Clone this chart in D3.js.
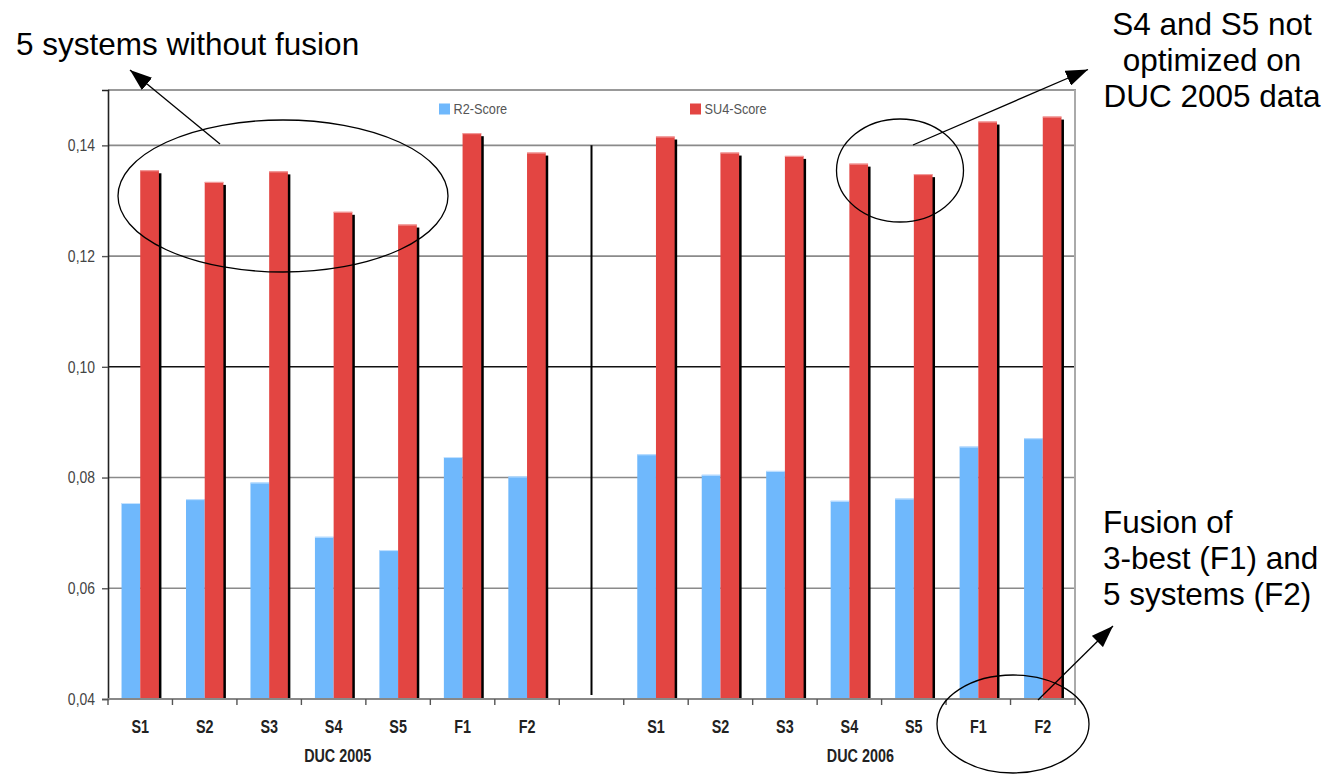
<!DOCTYPE html>
<html>
<head>
<meta charset="utf-8">
<script src="https://cdn.jsdelivr.net/npm/d3@7"></script>
<style>
  body { margin: 0; background: #fff; }
  svg { display: block; }
</style>
</head>
<body>
<svg id="chart" width="1329" height="774"></svg>
<script>
// chart values
var systems = ["S1", "S2", "S3", "S4", "S5", "F1", "F2"];
var years = ["DUC 2005", "DUC 2006"];
var r2_2005 = [0.0754, 0.0761, 0.0791, 0.0693, 0.0669, 0.0837, 0.0802];
var su4_2005 = [0.1355, 0.1334, 0.1353, 0.1280, 0.1257, 0.1422, 0.1387];
var r2_2006 = [0.0842, 0.0805, 0.0812, 0.0758, 0.0762, 0.0856, 0.0871];
var su4_2006 = [0.1416, 0.1387, 0.1381, 0.1367, 0.1348, 0.1443, 0.1452];
var yTicks = [0.04, 0.06, 0.08, 0.10, 0.12, 0.14];
var seriesNames = ["R2-Score", "SU4-Score"];

var BLUE = "#6fb8fc", RED = "#e34542";
var FONT = "'Liberation Sans', Arial, sans-serif";
var svg = d3.select("#chart");

// one slot per system + an empty slot between the two years
var keys = [];
var rows = [];
years.forEach(function(yr, i) {
    if (i > 0) keys.push("gap");
    var r2 = i == 0 ? r2_2005 : r2_2006;
    var su4 = i == 0 ? su4_2005 : su4_2006;
    systems.forEach(function(s, j) {
        keys.push(yr + "|" + s);
        rows.push({key: yr + "|" + s, sys: s, year: yr, r2: r2[j], su4: su4[j]});
    });
});

var x = d3.scaleBand().domain(keys).range([108, 1075]).padding(0);
var y = d3.scaleLinear().domain([0.04, 0.15]).range([699, 90]);
var bw = x.bandwidth() * 0.29;
var off = (x.bandwidth() - 2 * bw) / 2;

// squeeze text horizontally, the chart labels use a narrow face
function narrow(sel) {
    sel.each(function() {
        var w = this.getComputedTextLength();
        d3.select(this).attr("textLength", w * 0.82).attr("lengthAdjust", "spacingAndGlyphs");
    });
}

// gridlines
svg.append("g").selectAll("line")
    .data(yTicks.filter(function(d) { return d > 0.04; }))
    .enter().append("line")
    .attr("x1", 108).attr("x2", 1075)
    .attr("y1", function(d) { return y(d); })
    .attr("y2", function(d) { return y(d); })
    .style("stroke", function(d) { return Math.abs(d - 0.10) < 1e-9 ? "#111" : "#8a8a8a"; })
    .style("stroke-width", 1.6);

// frame top / right
svg.append("line").attr("x1", 108).attr("x2", 1076).attr("y1", 90).attr("y2", 90)
    .style("stroke", "#999").style("stroke-width", 2);
svg.append("line").attr("x1", 1075).attr("x2", 1075).attr("y1", 90).attr("y2", 699)
    .style("stroke", "#aaa").style("stroke-width", 2);

// separator between years
svg.append("line")
    .attr("x1", x("gap") + x.bandwidth() / 2).attr("x2", x("gap") + x.bandwidth() / 2)
    .attr("y1", y(0.14)).attr("y2", 695)
    .style("stroke", "#000").style("stroke-width", 2);

var bars = svg.append("g").selectAll("g").data(rows).enter().append("g");

// shadow behind the red bars
bars.append("rect")
    .attr("x", function(d) { return x(d.key) + off + bw + 2.5; })
    .attr("y", function(d) { return y(d.su4) + 3; })
    .attr("width", bw)
    .attr("height", function(d) { return y(0.04) - y(d.su4) - 3; })
    .style("fill", "#000");

bars.append("rect")
    .attr("x", function(d) { return x(d.key) + off; })
    .attr("y", function(d) { return y(d.r2); })
    .attr("width", bw)
    .attr("height", function(d) { return y(0.04) - y(d.r2); })
    .style("fill", BLUE);
bars.append("line")
    .attr("x1", function(d) { return x(d.key) + off; })
    .attr("x2", function(d) { return x(d.key) + off + bw; })
    .attr("y1", function(d) { return y(d.r2) + 0.5; })
    .attr("y2", function(d) { return y(d.r2) + 0.5; })
    .style("stroke", "#c4e2ff");

bars.append("rect")
    .attr("x", function(d) { return x(d.key) + off + bw; })
    .attr("y", function(d) { return y(d.su4); })
    .attr("width", bw)
    .attr("height", function(d) { return y(0.04) - y(d.su4); })
    .style("fill", RED);
bars.append("line")
    .attr("x1", function(d) { return x(d.key) + off + bw; })
    .attr("x2", function(d) { return x(d.key) + off + 2 * bw; })
    .attr("y1", function(d) { return y(d.su4) + 0.5; })
    .attr("y2", function(d) { return y(d.su4) + 0.5; })
    .style("stroke", "#f4a3a3");

// y axis
var fmt = d3.format(".2f");
var yAxis = svg.append("g").attr("transform", "translate(108,0)")
    .call(d3.axisLeft(y).tickValues(yTicks).tickSize(6).tickPadding(7)
        .tickFormat(function(d) { return fmt(d).replace(".", ","); }));
yAxis.select(".domain").style("stroke", "#222").style("stroke-width", 1.6);
yAxis.selectAll(".tick line").style("stroke", "#555").style("stroke-width", 1.4);
yAxis.selectAll("text")
    .style("font-family", FONT)
    .style("font-size", "17px").style("fill", "#444")
    .call(narrow);

// x axis: ticks at slot boundaries, labels in the middle
var xAxis = svg.append("g");
xAxis.append("line").attr("x1", 108).attr("x2", 1076).attr("y1", 699).attr("y2", 699)
    .style("stroke", "#888").style("stroke-width", 1.8);
xAxis.selectAll(".tk").data(keys.concat(["end"])).enter().append("line")
    .attr("x1", function(d, i) { return 108 + i * x.step(); })
    .attr("x2", function(d, i) { return 108 + i * x.step(); })
    .attr("y1", 699).attr("y2", 705)
    .style("stroke", "#555").style("stroke-width", 1.4);
xAxis.selectAll(".lbl").data(rows).enter().append("text")
    .attr("x", function(d) { return x(d.key) + x.bandwidth() / 2; })
    .attr("y", 733)
    .attr("text-anchor", "middle")
    .style("font-family", FONT)
    .style("font-weight", "bold").style("font-size", "17.5px").style("fill", "#222")
    .text(function(d) { return d.sys; })
    .call(narrow);
var yearDx = [4, 11];
xAxis.selectAll(".yr").data(years).enter().append("text")
    .attr("x", function(d, i) { return x(d + "|S4") + x.bandwidth() / 2 + yearDx[i]; })
    .attr("y", 762)
    .attr("text-anchor", "middle")
    .style("font-family", FONT)
    .style("font-weight", "bold").style("font-size", "17.5px").style("fill", "#222")
    .text(function(d) { return d; })
    .call(narrow);

// legend
var legX = [439, 690];
var leg = svg.append("g").selectAll("g").data(seriesNames).enter().append("g")
    .attr("transform", function(d, i) { return "translate(" + legX[i] + ",103.5)"; });
leg.append("rect").attr("width", 11).attr("height", 11)
    .style("fill", function(d, i) { return i == 0 ? BLUE : RED; });
leg.append("text").attr("x", 14.5).attr("y", 10.5)
    .style("font-family", FONT)
    .style("font-size", "15.5px").style("fill", "#555")
    .text(function(d) { return d; })
    .call(narrow);

// annotations
svg.append("defs").append("marker")
    .attr("id", "head").attr("markerUnits", "userSpaceOnUse")
    .attr("viewBox", "0 0 22 16").attr("refX", 22).attr("refY", 8)
    .attr("markerWidth", 22).attr("markerHeight", 16).attr("orient", "auto")
    .append("path").attr("d", "M0,0 L22,8 L0,16 Z").style("fill", "#000");

var ann = svg.append("g").style("fill", "none").style("stroke", "#000").style("stroke-width", 1.3);
ann.append("ellipse").attr("cx", 283).attr("cy", 196).attr("rx", 165).attr("ry", 76);
ann.append("ellipse").attr("cx", 900).attr("cy", 170.5).attr("rx", 63.5).attr("ry", 51.5);
ann.append("ellipse").attr("cx", 1013).attr("cy", 724).attr("rx", 76).attr("ry", 49);
ann.append("line").attr("x1", 220).attr("y1", 144).attr("x2", 130).attr("y2", 70).attr("marker-end", "url(#head)");
ann.append("line").attr("x1", 913).attr("y1", 145).attr("x2", 1088).attr("y2", 69.5).attr("marker-end", "url(#head)");
ann.append("line").attr("x1", 1038).attr("y1", 700).attr("x2", 1113).attr("y2", 626).attr("marker-end", "url(#head)");

function note(lines, x0, y0, anchor) {
    svg.append("text")
        .attr("text-anchor", anchor)
        .style("font-family", FONT)
        .style("font-size", "31.5px").style("fill", "#000")
        .selectAll("tspan").data(lines).enter().append("tspan")
        .attr("x", x0).attr("y", function(d, i) { return y0 + i * 36; })
        .text(function(d) { return d; });
}
note(["5 systems without fusion"], 16, 55, "start");
note(["S4 and S5 not", "optimized on", "DUC 2005 data"], 1212, 35, "middle");
note(["Fusion of", "3-best (F1) and", "5 systems (F2)"], 1103, 533, "start");
</script>
</body>
</html>
